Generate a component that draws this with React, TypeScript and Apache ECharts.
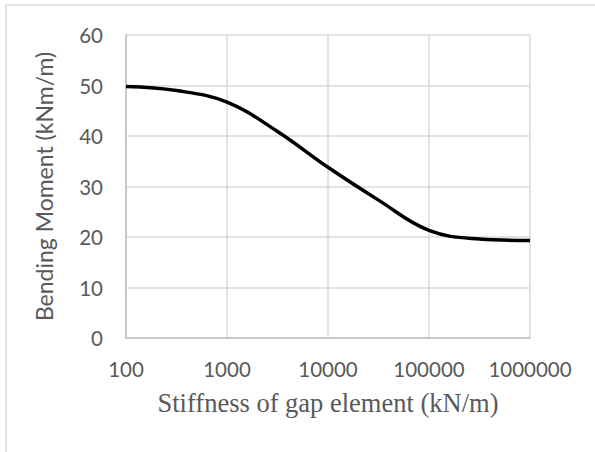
import React, { useEffect, useRef } from "react";
import * as echarts from "echarts";

const stiffness = [100, 316, 1000, 3162, 10000, 31623, 100000, 316228, 1000000];
const moment = [49.8, 49.0, 46.7, 40.9, 33.8, 27.3, 21.3, 19.6, 19.3];
const yTicks = { min: 0, max: 60, interval: 10 };
const xTitle = "Stiffness of gap element (kN/m)";
const yTitle = "Bending Moment (kNm/m)";

export default function App() {
  const ref = useRef<HTMLDivElement>(null);
  useEffect(() => {
    if (!ref.current) return;
    const chart = echarts.init(ref.current, null, { renderer: "svg" });
    chart.setOption({
      animation: false,
      backgroundColor: "#ffffff",
      grid: { left: 126, right: 65, top: 35, bottom: 114, containLabel: false },
      graphic: [
        { type: "line", shape: { x1: 6, y1: 5, x2: 595, y2: 5 }, style: { stroke: "#d9d9d9", lineWidth: 1.5 } },
        { type: "line", shape: { x1: 6, y1: 5, x2: 6, y2: 452 }, style: { stroke: "#d9d9d9", lineWidth: 1.5 } },
      ],
      xAxis: {
        type: "log",
        logBase: 10,
        min: 100,
        max: 1000000,
        name: xTitle,
        nameLocation: "middle",
        nameGap: 51,
        nameTextStyle: { fontFamily: "Liberation Serif", fontSize: 26.5, color: "#595959" },
        axisLine: { show: true, lineStyle: { color: "#bfbfbf", width: 1.5 } },
        axisTick: { show: false },
        splitLine: { show: true, lineStyle: { color: "#d9d9d9", width: 1.5 } },
        minorTick: { show: false },
        axisLabel: {
          margin: 20,
          fontFamily: "Lato",
          fontSize: 20.5,
          color: "#595959",
          formatter: (v: number) => String(Math.round(v)),
        },
      },
      yAxis: {
        type: "value",
        min: yTicks.min,
        max: yTicks.max,
        interval: yTicks.interval,
        name: yTitle,
        nameLocation: "middle",
        nameGap: 71,
        nameTextStyle: { fontFamily: "Lato", fontSize: 23, color: "#595959" },
        axisLine: { show: true, lineStyle: { color: "#bfbfbf", width: 1.5 } },
        axisTick: { show: false },
        splitLine: { show: true, lineStyle: { color: "#d9d9d9", width: 1.5 } },
        axisLabel: { margin: 23, fontFamily: "Lato", fontSize: 20.5, color: "#595959" },
      },
      series: [
        {
          type: "line",
          data: stiffness.map((x, i) => [x, moment[i]]),
          smooth: 0.4,
          showSymbol: false,
          lineStyle: { color: "#000000", width: 3.5 },
        },
      ],
    });
    return () => chart.dispose();
  }, []);
  return <div ref={ref} style={{ width: 595, height: 452, position: "absolute", left: 0, top: 0 }} />;
}
